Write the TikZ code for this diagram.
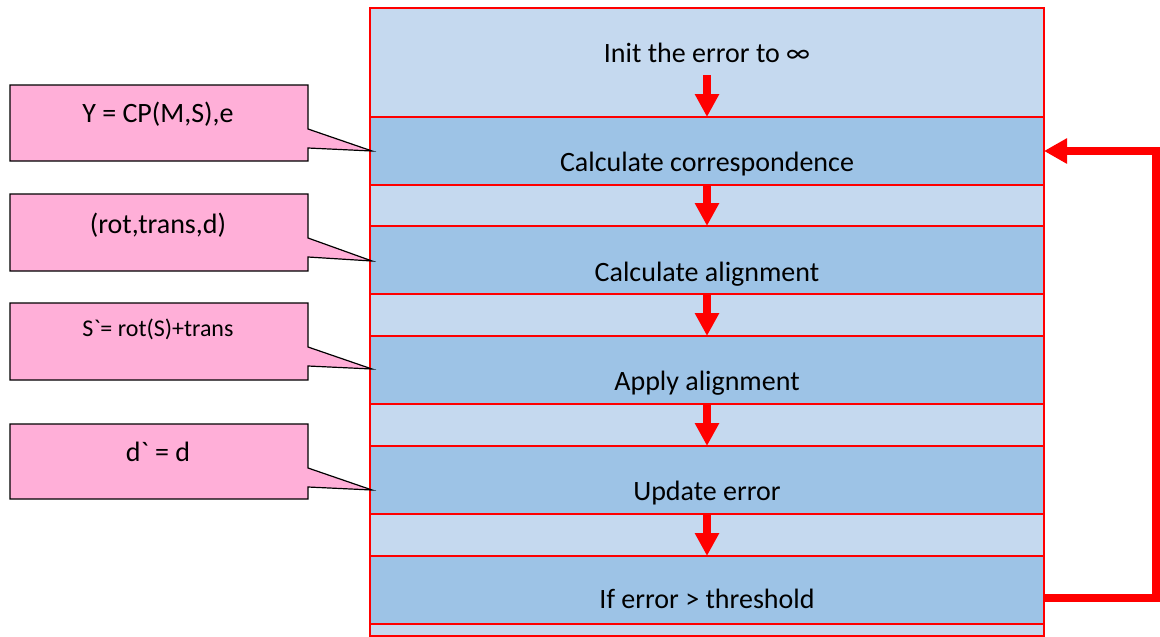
\documentclass[tikz,border=0pt]{standalone}
\usepackage{fontspec}
\setmainfont{Carlito}
% same face, without the TeX quote mapping, so that ` stays a grave accent
\newfontfamily\notefont{Carlito}
\usetikzlibrary{arrows.meta}
\definecolor{paneblue}{HTML}{C5D9EF}
\definecolor{stageblue}{HTML}{9DC3E6}
\definecolor{notepink}{HTML}{FFAFD8}
\begin{document}
\begin{tikzpicture}[x=1pt,y=-1pt,
  frame/.style={draw=red, line width=1.3pt},
  stage/.style={frame, fill=stageblue, minimum width=674pt, minimum height=68pt,
    anchor=north west, inner sep=0pt, outer sep=0pt},
  txt/.style={font=\fontsize{28}{30}\selectfont, anchor=base, inner sep=0pt},
  smalltxt/.style={font=\notefont\fontsize{24}{26}\selectfont, anchor=base, inner sep=0pt},
  flow/.style={draw=red, line width=8pt, -{Triangle[length=23pt,width=23pt]}, red},
  loopback/.style={draw=red, line width=7.5pt, -{Triangle[length=23pt,width=24pt]}, red},
  note/.style={draw=black, fill=notepink, line width=1.2pt, line join=miter}
]
\useasboundingbox (0,0) rectangle (1160,637);

% outer panel and the five stages
\node[frame, fill=paneblue, minimum width=674pt, minimum height=628pt,
  anchor=north west, inner sep=0pt, outer sep=0pt] (panel) at (370,8) {};
\node[stage] (s1) at (370,117) {};
\node[stage] (s2) at (370,226) {};
\node[stage] (s3) at (370,336) {};
\node[stage] (s4) at (370,446) {};
\node[stage] (s5) at (370,556) {};

% stage texts
\node[txt] (t0) at (707,62) {Init the error to ∞};
\node[txt] (t1) at (707,171) {Calculate correspondence};
\node[txt] (t2) at (707,281) {Calculate alignment};
\node[txt] (t3) at (707,390) {Apply alignment};
\node[txt] (t4) at (707,500) {Update error};
\node[txt] (t5) at (707,608) {If error > threshold};

% downward flow arrows
\coordinate (start) at (707,75);
\draw[flow] (start) -- (s1.north);
\draw[flow] (s1.south) -- (s2.north);
\draw[flow] (s2.south) -- (s3.north);
\draw[flow] (s3.south) -- (s4.north);
\draw[flow] (s4.south) -- (s5.north);

% loop back from the threshold test
\draw[loopback, line join=miter] ([yshift=-8pt]s5.east) -- ++(112,0) |- (s1.east);

% callouts
\draw[note] (10,85) -- (308,85) -- (308,129) -- (372,151) -- (308,148) -- (308,161) -- (10,161) -- cycle;
\node[txt] (n1) at (158,122) {Y = CP(M,S),e};
\draw[note] (10,194) -- (308,194) -- (308,238) -- (372,261) -- (308,257) -- (308,271) -- (10,271) -- cycle;
\node[txt] (n2) at (158,233) {(rot,trans,d)};
\draw[note] (10,303) -- (308,303) -- (308,347) -- (372,369) -- (308,366) -- (308,380) -- (10,380) -- cycle;
\node[smalltxt] (n3) at (158,336) {S`= rot(S)+trans};
\draw[note] (10,424) -- (308,424) -- (308,468) -- (372,490) -- (308,487) -- (308,499) -- (10,499) -- cycle;
\node[txt, font=\notefont\fontsize{28}{30}\selectfont] (n4) at (158,461) {d` = d};
\end{tikzpicture}
\end{document}
